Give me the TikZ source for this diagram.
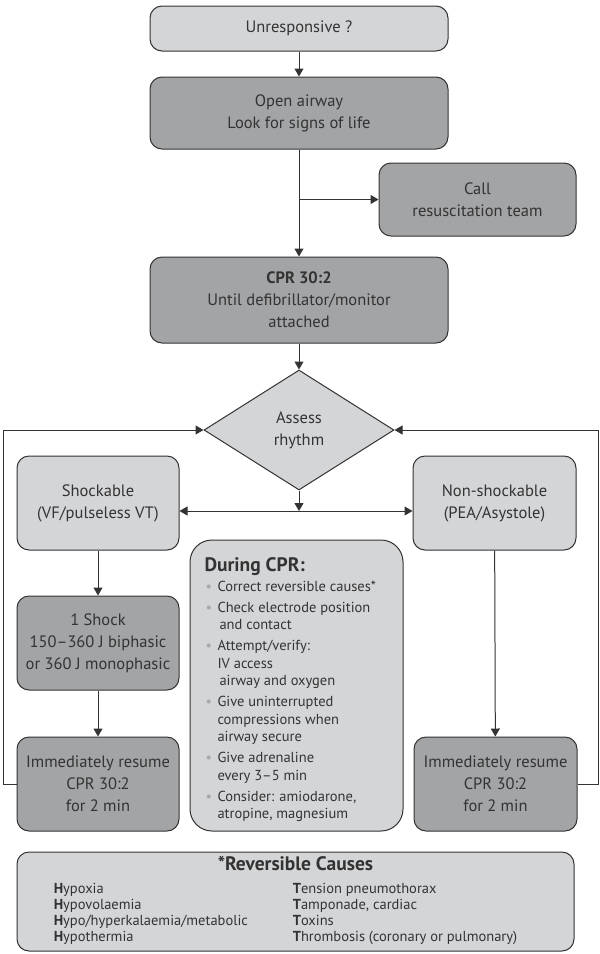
\documentclass[tikz,border=0pt]{standalone}
\usepackage{fontspec}
\setmainfont{PT Sans}
\usepackage{xcolor}
\usepackage{tikz}
\usetikzlibrary{arrows.meta,positioning,shapes,calc}

\definecolor{boxlight}{HTML}{D4D5D7}
\definecolor{boxdark}{HTML}{A3A4A6}
\definecolor{inkgray}{HTML}{333333}
\definecolor{dotgray}{HTML}{A8A8A8}

\newcommand{\cprpoint}[1]{\par\vspace{3.5pt}\noindent\hangindent=13pt\hangafter=1%
  \makebox[13pt][l]{\hspace{1pt}\textcolor{dotgray}{\textbullet}}#1}

\begin{document}
\begin{tikzpicture}[x=1pt, y=-1pt, node distance=2cm, >={Triangle[length=8pt,width=9pt]}, line width=1pt, color=inkgray]
    \tikzstyle{state} = [draw, rectangle, rounded corners=12pt, fill=boxlight, align=center, inner sep=0pt, font=\fontsize{16.5}{22}\selectfont]
    \tikzstyle{action} = [state, fill=boxdark]
    \tikzstyle{check} = [draw, diamond, fill=boxlight, align=center, inner sep=0pt, minimum width=190pt, minimum height=120pt, font=\fontsize{16.5}{22}\selectfont]

    \useasboundingbox (0,0) rectangle (600,954);

    \node [state, minimum width=298pt, minimum height=45pt] (unres) at (299,28.5) {Unresponsive ?};
    \node [action, below of=unres, node distance=84.5pt, minimum width=298pt, minimum height=72pt] (open) {Open airway\\Look for signs of life};
    \node [action, minimum width=197pt, minimum height=73pt] (team) at (477.5,199.5) {Call\\resuscitation team};
    \node [action, below of=open, node distance=187pt, minimum width=298pt, minimum height=86pt] (cpr) {\textbf{CPR 30:2}\\Until defibrillator/monitor\\attached};
    \node [check, below of=cpr, node distance=130pt] (assess) {Assess\\rhythm};

    \node [state, minimum width=162pt, minimum height=94pt] (shockable) at (98,503) {Shockable\\(VF/pulseless VT)};
    \node [state, minimum width=163pt, minimum height=94pt] (nonshock) at (494.5,503) {Non-shockable\\(PEA/Asystole)};
    \node [action, below of=shockable, node distance=140pt, minimum width=162pt, minimum height=94pt] (shock) {1 Shock\\150--360 J biphasic\\or 360 J monophasic};
    \node [action, below of=shock, node distance=141pt, minimum width=162pt, minimum height=94pt] (resumeL) {Immediately resume\\CPR 30:2\\for 2 min};
    \node [action, minimum width=163pt, minimum height=94pt] (resumeR) at (495.5,784) {Immediately resume\\CPR 30:2\\for 2 min};

    \node [state, minimum width=213pt, minimum height=291pt, rounded corners=22pt] (during) at (296.5,685.5) {%
      \begin{minipage}{184pt}\raggedright
        \vspace*{8pt}
        {\fontsize{19.5}{22}\selectfont\bfseries During CPR:}\par\vspace{-1pt}
        \fontsize{14.5}{17.5}\selectfont
        \cprpoint{Correct reversible causes*}
        \cprpoint{Check electrode position\newline\hspace*{2pt}and contact}
        \cprpoint{Attempt/verify:\newline IV access\newline\hspace*{2pt}airway and oxygen}
        \cprpoint{Give uninterrupted\newline compressions when\newline airway secure}
        \cprpoint{Give adrenaline\newline every 3--5 min}
        \cprpoint{Consider: amiodarone,\newline atropine, magnesium}
      \end{minipage}};

    \node [state, minimum width=557pt, minimum height=99pt] (causes) at (295.5,901.5) {%
      {\fontsize{19.5}{22}\selectfont\bfseries *Reversible Causes}\\[1pt]
      {\fontsize{14.5}{16}\selectfont
      \begin{tabular}[t]{@{}p{239pt}@{}l@{\hspace{20pt}}}
        \textbf{H}ypoxia & \textbf{T}ension pneumothorax\\
        \textbf{H}ypovolaemia & \textbf{T}amponade, cardiac\\
        \textbf{H}ypo/hyperkalaemia/metabolic & \textbf{T}oxins\\
        \textbf{H}ypothermia & \textbf{T}hrombosis (coronary or pulmonary)
      \end{tabular}}};

    \coordinate (split) at (assess.south |- 0,511);

    \draw [->] (unres) -- (open);
    \draw [->] (open) -- (cpr);
    \draw [->] (open.south |- team.west) -- (team.west);
    \draw [->] (cpr) -- (assess);
    \draw [->] (assess.south) -- (split);
    \draw [<->] (shockable.east |- split) -- (nonshock.west |- split);
    \draw [->] (shockable) -- (shock);
    \draw [->] (shock) -- (resumeL);
    \draw [->] (nonshock) -- (resumeR);
    \draw [->] (resumeL.west) -- ++(-13pt,0) |- (assess.west);
    \draw [->] (resumeR.east) -- ++(21pt,0) |- (assess.east);
\end{tikzpicture}
\end{document}
